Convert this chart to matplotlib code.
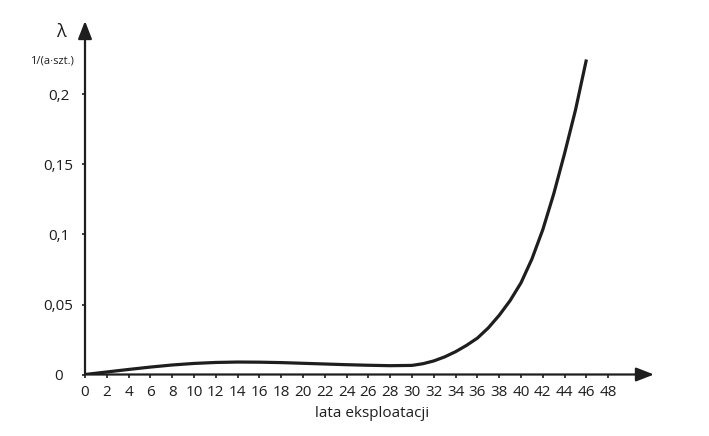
"""Intensywność uszkodzeń w funkcji lat eksploatacji."""

import matplotlib

matplotlib.use("Agg")
import matplotlib.pyplot as plt

plt.rcParams["font.family"] = ["Open Sans", "DejaVu Sans"]

INK = "#1e1e1e"

years = [0, 2, 4, 6, 8, 10, 12, 14, 16, 18, 20, 22, 24, 26, 28, 30,
         31, 32, 33, 34, 35, 36, 37, 38, 39, 40, 41, 42, 43, 44, 45, 46]
lam = [0.0, 0.0018, 0.0036, 0.0053, 0.0068, 0.0079, 0.0086, 0.0089,
       0.0088, 0.0085, 0.0080, 0.0075, 0.0070, 0.0066, 0.0063, 0.0065,
       0.0077, 0.0097, 0.0126, 0.0163, 0.0208, 0.026, 0.0333, 0.0423,
       0.0528, 0.0655, 0.0825, 0.1035, 0.129, 0.158, 0.189, 0.225]

x_ticks = list(range(0, 50, 2))
y_ticks = [0, 0.05, 0.1, 0.15, 0.2]
y_tick_labels = ["0", "0,05", "0,1", "0,15", "0,2"]

fig = plt.figure(figsize=(7.09, 4.36), dpi=100)
ax = fig.add_axes([85 / 709, 61.5 / 436, 569 / 709, 353.5 / 436])
ax.set_xlim(0, 52.2)
ax.set_ylim(0, 0.2525)

ax.plot(years, lam, color=INK, lw=2.3, solid_capstyle="butt",
        solid_joinstyle="round")

for s in ax.spines.values():
    s.set_visible(False)

# axes with arrow heads
arrow = dict(arrowstyle="-|>,head_length=0.9,head_width=0.35", color=INK,
             lw=1.6, mutation_scale=12, shrinkA=0, shrinkB=0)
ax.annotate("", xy=(1, 0), xytext=(0, 0), xycoords="axes fraction",
            arrowprops=arrow, annotation_clip=False)
ax.annotate("", xy=(0, 1), xytext=(0, 0), xycoords="axes fraction",
            arrowprops=arrow, annotation_clip=False)

ax.set_xticks(x_ticks)
ax.set_xticklabels([str(t) for t in x_ticks])
ax.set_yticks(y_ticks)
ax.set_yticklabels(y_tick_labels)
ax.tick_params(axis="both", direction="out", length=2.5, width=1.2,
               colors=INK, labelsize=11)
ax.tick_params(axis="x", pad=5)
ax.tick_params(axis="y", pad=16.5)
for lbl in ax.get_yticklabels():
    lbl.set_horizontalalignment("center")

fig.text(372 / 709, 1 - 413 / 436, "lata eksploatacji", ha="center",
         va="center", fontsize=11, color=INK)
fig.text(61 / 709, 1 - 32 / 436, "λ", ha="center", va="center",
         fontsize=13, color=INK)
fig.text(52 / 709, 1 - 61 / 436, "1/(a·szt.)", ha="center", va="center",
         fontsize=8, color=INK)

fig.savefig("out.png", dpi=100, facecolor="white")
